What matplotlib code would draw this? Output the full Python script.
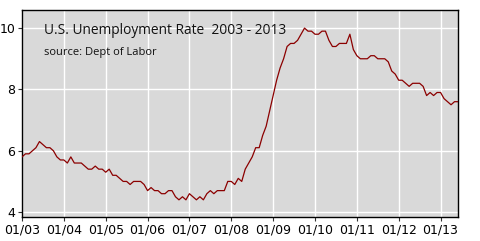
import matplotlib
matplotlib.use("Agg")
import matplotlib.pyplot as plt
import numpy as np

# monthly unemployment rate, Jan 2003 - Jun 2013
rate_2003 = [5.8, 5.9, 5.9, 6.0, 6.1, 6.3, 6.2, 6.1, 6.1, 6.0, 5.8, 5.7]
rate_2004 = [5.7, 5.6, 5.8, 5.6, 5.6, 5.6, 5.5, 5.4, 5.4, 5.5, 5.4, 5.4]
rate_2005 = [5.3, 5.4, 5.2, 5.2, 5.1, 5.0, 5.0, 4.9, 5.0, 5.0, 5.0, 4.9]
rate_2006 = [4.7, 4.8, 4.7, 4.7, 4.6, 4.6, 4.7, 4.7, 4.5, 4.4, 4.5, 4.4]
rate_2007 = [4.6, 4.5, 4.4, 4.5, 4.4, 4.6, 4.7, 4.6, 4.7, 4.7, 4.7, 5.0]
rate_2008 = [5.0, 4.9, 5.1, 5.0, 5.4, 5.6, 5.8, 6.1, 6.1, 6.5, 6.8, 7.3]
rate_2009 = [7.8, 8.3, 8.7, 9.0, 9.4, 9.5, 9.5, 9.6, 9.8, 10.0, 9.9, 9.9]
rate_2010 = [9.8, 9.8, 9.9, 9.9, 9.6, 9.4, 9.4, 9.5, 9.5, 9.5, 9.8, 9.3]
rate_2011 = [9.1, 9.0, 9.0, 9.0, 9.1, 9.1, 9.0, 9.0, 9.0, 8.9, 8.6, 8.5]
rate_2012 = [8.3, 8.3, 8.2, 8.1, 8.2, 8.2, 8.2, 8.1, 7.8, 7.9, 7.8, 7.9]
rate_2013 = [7.9, 7.7, 7.6, 7.5, 7.6, 7.6]

rates = (rate_2003 + rate_2004 + rate_2005 + rate_2006 + rate_2007 + rate_2008
         + rate_2009 + rate_2010 + rate_2011 + rate_2012 + rate_2013)
years = list(range(2003, 2014))
tick_labels = ["01/%02d" % (y % 100) for y in years]
y_ticks = [4, 6, 8, 10]

x = 2003 + np.arange(len(rates)) / 12.0

fig = plt.figure(figsize=(4.8, 2.41), dpi=100)
ax = fig.add_axes([22 / 480, 1 - 217 / 241, 436 / 480, 207 / 241])
ax.set_facecolor("#d9d9d9")

ax.plot(x, rates, color="#8b0000", lw=0.9, zorder=3)

ax.set_xlim(x[0], x[-1])
ax.set_ylim(3.84, 10.59)
ax.set_xticks(years)
ax.set_xticklabels(tick_labels)
ax.set_yticks(y_ticks)
ax.grid(True, color="white", lw=1.0)
ax.set_axisbelow(True)
ax.tick_params(direction="out", length=3, width=0.8, labelsize=9, pad=2,
               colors="#333333", labelcolor="black")
for s in ax.spines.values():
    s.set_linewidth(1.0)
    s.set_color("black")

ax.text(0.05, 0.885, "U.S. Unemployment Rate  2003 - 2013", transform=ax.transAxes,
        fontsize=9.9, family="Open Sans", color="#111111")
ax.text(0.05, 0.785, "source: Dept of Labor", transform=ax.transAxes,
        fontsize=8.0, family="Open Sans", color="#111111")

fig.savefig("out.png", dpi=100)
